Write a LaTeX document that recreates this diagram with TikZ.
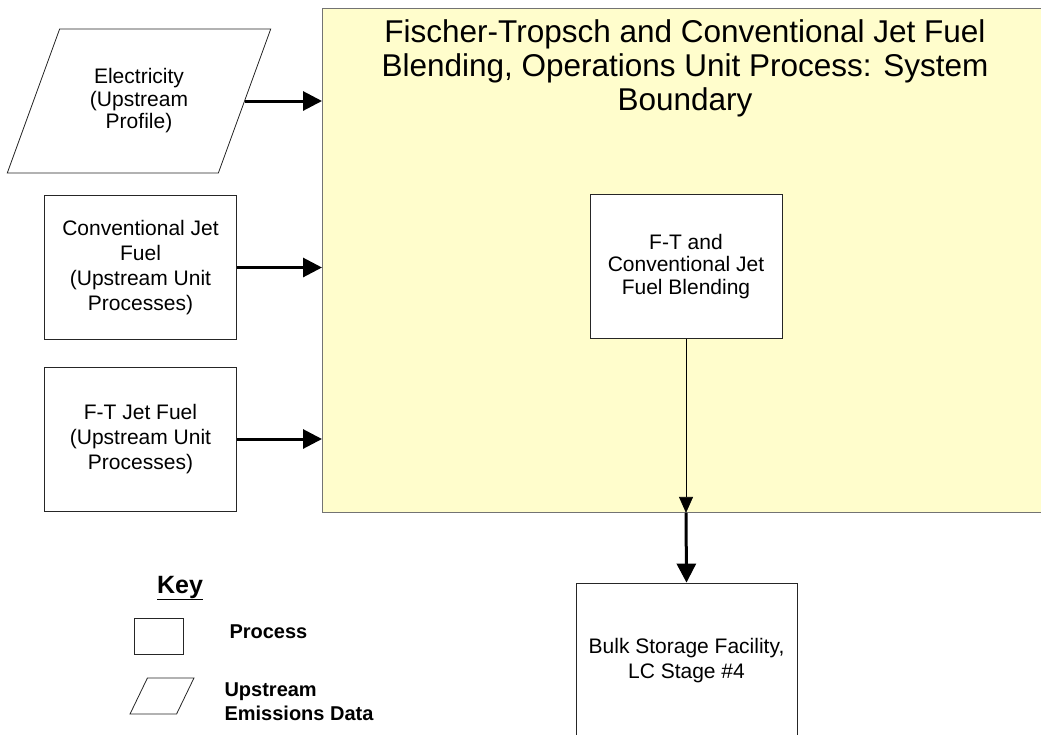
\documentclass[tikz,border=0pt]{standalone}
\usepackage{fontspec}
\setmainfont{Liberation Sans}
\usetikzlibrary{positioning,arrows.meta,shapes.geometric}

\definecolor{bndyellow}{RGB}{255,253,204}

\begin{document}
\begin{tikzpicture}[x=1pt, y=-1pt,
  txt/.style={font=\fontsize{21}{25}\selectfont, align=center},
  proc/.style={txt, draw=black!85, line width=0.8pt, fill=white, minimum width=192pt, minimum height=144pt, inner sep=2pt},
  updata/.style={txt, trapezium, trapezium left angle=63.4, trapezium right angle=116.6, trapezium stretches=true, draw=black!85, line width=0.8pt, fill=white, minimum width=264pt, minimum height=144pt, inner sep=0pt},
  boundary/.style={draw=black!55, line width=0.9pt, fill=bndyellow, minimum width=760pt, minimum height=504pt, anchor=north west},
  flow/.style={line width=3pt, -{Triangle[length=19pt,width=19pt]}},
  thinflow/.style={line width=0.7pt, -{Triangle[length=16pt,width=14pt]}},
  keytxt/.style={font=\bfseries\fontsize{20}{24}\selectfont, align=left, anchor=west}
]
\clip (0,0) rectangle (1041,734);

% system boundary
\node[boundary] (bound) at (322,8) {};
\node[font=\fontsize{31.5}{34}\selectfont, align=center] (title) at (685,68)
  {Fischer-Tropsch and Conventional Jet Fuel\\Blending, Operations Unit Process: System\\Boundary};

% inputs
\node[updata, font=\fontsize{21}{22.5}\selectfont] (elec) at (139,101) {Electricity\\(Upstream\\Profile)};
\node[proc] (convjet) at (140.5,267.5) {Conventional Jet\\Fuel\\(Upstream Unit\\Processes)};
\node[proc] (ftjet) at (140.5,439) {F-T Jet Fuel\\(Upstream Unit\\Processes)};

% blending and storage
\node[proc, font=\fontsize{21}{22.5}\selectfont] (blend) at (686,266.5) {F-T and\\Conventional Jet\\Fuel Blending};
\node[proc, minimum width=221pt, minimum height=156pt] (bulk) at (686.5,661) {Bulk Storage Facility,\\LC Stage \#4};

\draw[flow] (elec.east) -- (elec.east -| bound.west);
\draw[flow] (convjet.east) -- (convjet.east -| bound.west);
\draw[flow] (ftjet.east) -- (ftjet.east -| bound.west);
\draw[thinflow] (blend.south) -- (blend.south |- bound.south);
\draw[flow] (blend.south |- bound.south) -- (bulk.north);

% key
\node[font=\bfseries\fontsize{25}{28}\selectfont] (keyhd) at (180,588) {\underline{Key}};
\node[draw=black!85, line width=0.8pt, minimum width=49pt, minimum height=36pt] (keyproc) at (158.5,636) {};
\node[updata, minimum width=64pt, minimum height=36pt] (keyup) at (162,696) {\hphantom{xx}\strut};
\node[keytxt] (keyproctxt) at (226,632) {Process};
\node[keytxt] (keyuptxt) at (221,702) {Upstream\\Emissions Data};

\end{tikzpicture}
\end{document}
